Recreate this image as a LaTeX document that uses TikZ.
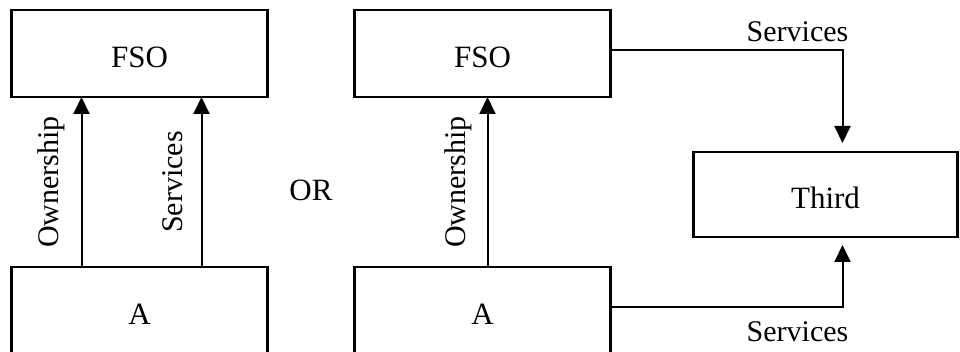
\documentclass[tikz,border=0pt]{standalone}
\usepackage{fontspec}
\setmainfont{Liberation Serif}
\usetikzlibrary{positioning,arrows.meta,calc}

\begin{document}
\begin{tikzpicture}[x=0.5pt, y=-0.5pt, node distance=85pt,
                    box/.style={rectangle,draw,line width=1.3pt,minimum width=128pt,minimum height=43.5pt,
                                inner sep=0pt,outer sep=0pt,text height=14pt,text depth=0pt,
                                font=\fontsize{15.5}{18}\selectfont},
                    flow/.style={line width=1pt,-{Triangle[length=8.5pt,width=8pt]}},
                    lbl/.style={inner sep=0pt,font=\fontsize{15}{18}\selectfont}]

  \useasboundingbox (0,0) rectangle (960,352);

  \node[box] (fso1) at (139.5,53.5) {FSO};
  \node[box] (a1) [below=of fso1] {A};
  \node[box] (fso2) [right=43.5pt of fso1] {FSO};
  \node[box] (a2) [below=of fso2] {A};
  \node[box,minimum width=132pt,minimum height=42.5pt] (third) [below right=27.5pt and 41.5pt of fso2] {Third};

  \node[lbl,font=\fontsize{15.5}{18}\selectfont] (or) at ($(fso1.south east)!0.5!(a2.north west)+(0,8)$) {OR};

  \path[flow]
    ([xshift=35pt]a1.north west) edge node[lbl,midway,above=8pt,sloped] {Ownership} ([xshift=35pt]fso1.south west)
    ([xshift=95pt]a1.north west) edge node[lbl,midway,above=9pt,sloped] {Services} ([xshift=95pt]fso1.south west)

    ([xshift=66.5pt]a2.north west) edge node[lbl,midway,above=7.5pt,sloped] {Ownership} ([xshift=66.5pt]fso2.south west)
    ;

  % services to the third party
  \draw[flow] ([yshift=1.75pt]fso2.east) -| node[lbl,pos=0.5,above=3.5pt,xshift=-22.5pt] {Services} ([xshift=8.5pt,yshift=4.5pt]third.north);
  \draw[flow] ([yshift=1.75pt]a2.east) -| node[lbl,pos=0.5,below=7pt,xshift=-22.5pt] {Services} ([xshift=8.5pt,yshift=-4pt]third.south);

\end{tikzpicture}
\end{document}
